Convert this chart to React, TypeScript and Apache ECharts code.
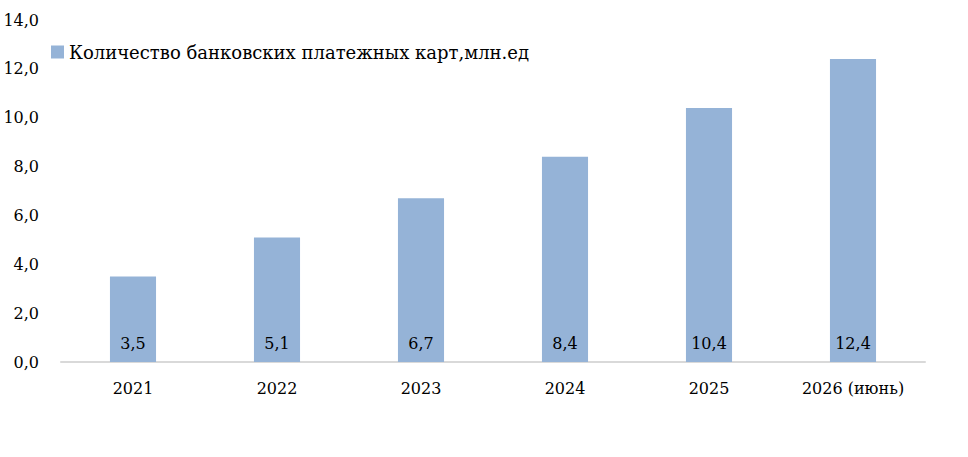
import React, { useEffect, useRef } from "react";
import * as echarts from "echarts";

const categories = ["2021", "2022", "2023", "2024", "2025", "2026 (июнь)"];
const values = [3.5, 5.1, 6.7, 8.4, 10.4, 12.4];
const seriesName = "Количество банковских платежных карт,млн.ед";

const FONT = "DejaVu Serif";
const fmt = (v: number) => v.toFixed(1).replace(".", ",");

export default function App() {
  const ref = useRef<HTMLDivElement>(null);
  useEffect(() => {
    document.body.style.margin = "0";
    const chart = echarts.init(ref.current!, undefined, { renderer: "svg" });
    chart.setOption({
      animation: false,
      backgroundColor: "#ffffff",
      textStyle: { fontFamily: FONT },
      legend: {
        show: true,
        left: 46,
        top: 38,
        itemWidth: 13,
        itemHeight: 13,
        itemGap: 5,
        icon: "rect",
        textStyle: { fontFamily: FONT, fontSize: 18, color: "#000" },
        data: [seriesName],
      },
      grid: { left: 61, right: 43, top: 20, bottom: 95, containLabel: false },
      xAxis: {
        type: "category",
        data: categories,
        axisLine: { lineStyle: { color: "#d9d9d9", width: 2 } },
        axisTick: { show: false },
        axisLabel: { fontFamily: FONT, fontSize: 16, color: "#000", margin: 18 },
      },
      yAxis: {
        type: "value",
        min: 0,
        max: 14,
        interval: 2,
        splitLine: { show: false },
        axisLine: { show: false },
        axisTick: { show: false },
        axisLabel: {
          fontFamily: FONT,
          fontSize: 16,
          color: "#000",
          margin: 22,
          formatter: (v: number) => fmt(v),
        },
      },
      series: [
        {
          name: seriesName,
          type: "bar",
          data: values,
          barWidth: "32%",
          itemStyle: { color: "#95b3d7" },
          label: {
            show: true,
            position: "insideBottom",
            distance: 11,
            fontFamily: FONT,
            fontSize: 16,
            color: "#000",
            formatter: (p: any) => fmt(p.value),
          },
        },
      ],
    });
    return () => chart.dispose();
  }, []);
  return <div ref={ref} style={{ width: 968, height: 457 }} />;
}
